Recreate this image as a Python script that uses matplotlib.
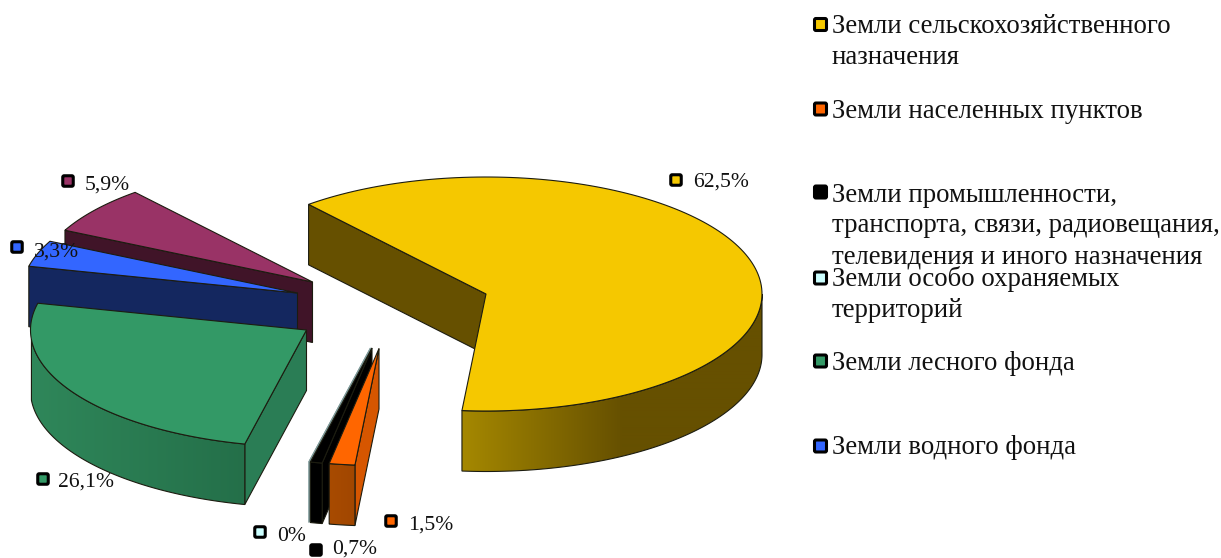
import numpy as np
import matplotlib
matplotlib.use("Agg")
import matplotlib.pyplot as plt
from matplotlib.patches import FancyBboxPatch, Polygon
from matplotlib.colors import to_rgb

plt.rcParams["font.family"] = ["Liberation Serif", "DejaVu Serif"]

# Land categories and their shares, percent
categories = [
    "Земли сельскохозяйственного\nназначения",
    "Земли населенных пунктов",
    "Земли промышленности,\nтранспорта, связи, радиовещания,\nтелевидения и иного назначения",
    "Земли особо охраняемых\nтерриторий",
    "Земли лесного фонда",
    "Земли водного фонда",
    "Земли запаса",
]
shares = [62.5, 1.5, 0.7, 0, 26.1, 3.3, 5.9]
share_labels = ["62,5%", "1,5%", "0,7%", "0%", "26,1%", "3,3%", "5,9%"]

# Face colours per slice
top_colors = ["#f5c800", "#ff6600", "#000000", "#ccffff", "#339966", "#3366ff", "#993366"]
cut_colors = ["#665000", "#d65600", "#000000", "#7f9a9a", "#2a7d55", "#14275f", "#401428"]
rim_left = ["#a58800", "#a84b00", "#000000", "#7f9a9a", "#2f875a", "#14275f", "#401428"]
rim_right = ["#665000", "#a04600", "#000000", "#7f9a9a", "#246f49", "#14275f", "#401428"]
rim_fade_px = [160, 30, 1, 1, 215, 1, 1]

# Position of each pulled-out slice's tip on the canvas, in pixels
tips = [(486, 294), (379, 348.5), (372, 348), (370.5, 348), (306.5, 330), (297.5, 293), (312.5, 282)]

RX, RY, DEPTH = 276.0, 117.0, 60.5
START_ANGLE = 130.0
EDGE = "#1c1c10"

fig = plt.figure(figsize=(12.21, 5.58), dpi=100)
ax = fig.add_axes([0, 0, 1, 1])
ax.set_xlim(0, 1221)
ax.set_ylim(558, 0)
ax.axis("off")


def skew(t):
    """Foreshortening of the view on the far-left part of the disc."""
    s = (t - START_ANGLE) % 360.0
    return t + 5.0 * np.sin(np.pi * s / 127.0) if s < 127.0 else t


def rim_point(tip, t):
    a = np.radians(skew(t))
    return tip[0] + RX * np.cos(a), tip[1] - RY * np.sin(a)


def arc(tip, t1, t2, n=160):
    return np.array([rim_point(tip, t) for t in np.linspace(t1, t2, n)])


def edge_color(i):
    # the empty slice shows only as a thin grey sliver
    return cut_colors[i] if shares[i] == 0 else EDGE


def shaded_rim(i, tip, t1, t2, z):
    """Outer wall of a slice with its left-to-right shading."""
    pts = arc(tip, t1, t2, 240)
    outline = np.vstack([pts, pts[::-1] + [0, DEPTH]])
    x0, x1 = outline[:, 0].min(), outline[:, 0].max()
    y0, y1 = outline[:, 1].min(), outline[:, 1].max()
    c1, c2 = np.array(to_rgb(rim_left[i])), np.array(to_rgb(rim_right[i]))
    xs = np.arange(x0, x1 + 1.0)
    f = np.clip((xs - x0) / rim_fade_px[i], 0, 1)[None, :, None]
    img = ax.imshow(c1 + (c2 - c1) * f, extent=(x0, x1 + 1, y1, y0), aspect="auto",
                    interpolation="bilinear", zorder=z)
    img.set_clip_path(Polygon(outline, closed=True, transform=ax.transData))
    ax.fill(outline[:, 0], outline[:, 1], fc="none", ec=edge_color(i), lw=0.8, zorder=z)
    ax.set_xlim(0, 1221)
    ax.set_ylim(558, 0)


def draw_slice(i, t1, t2, z):
    tip = tips[i]
    # wall along the leading cut, visible when it faces the viewer
    if np.cos(np.radians(t1)) < 0:
        p = rim_point(tip, t1)
        ax.fill([tip[0], p[0], p[0], tip[0]],
                [tip[1], p[1], p[1] + DEPTH, tip[1] + DEPTH],
                fc=cut_colors[i], ec=edge_color(i), lw=0.8, zorder=z)
    # visible stretch of the outer wall: the lower half of the ellipse
    k = np.floor((t1 + 180.0) / 360.0)
    front_lo, front_hi = -180.0 + 360.0 * k, 360.0 * k
    a, b = max(t2, front_lo), min(t1, front_hi)
    if b > a:
        shaded_rim(i, tip, b, a, z + 0.1)
    top = np.vstack([[tip], arc(tip, t1, t2)])
    ax.fill(top[:, 0], top[:, 1], fc=top_colors[i], ec=edge_color(i), lw=0.8, zorder=z + 0.2)


# Slice angles follow the shares clockwise from the start angle
sweeps = np.array(shares) * 3.6
ends = START_ANGLE - np.cumsum(sweeps)
starts = np.concatenate([[START_ANGLE], ends[:-1]])
paint_order = {6: 1, 5: 2, 4: 3, 0: 4, 3: 5, 2: 6, 1: 7}
for i, z in paint_order.items():
    draw_slice(i, starts[i], ends[i], z)


def swatch(cx, cy, color, size):
    h = size / 2
    box = FancyBboxPatch((cx - h, cy - h), size, size,
                         boxstyle="round,pad=0,rounding_size=1.5",
                         fc=color, ec="black", lw=2.2, zorder=20)
    ax.add_patch(box)


# Share labels next to the slices
label_swatches = [(676, 180), (391, 521), (316, 550), (260, 532), (43, 479), (17, 247), (68, 181)]
label_text = [(693, 187), (408, 530), (332, 554), (277, 541), (58, 487), (34, 257), (85, 190)]
for i, lab in enumerate(share_labels):
    swatch(*label_swatches[i], top_colors[i], 10.5)
    ax.text(*label_text[i], lab, fontsize=15.6, color="#111111", va="baseline", ha="left", zorder=21)

# Key on the right; the last category has no entry
key_swatches = [24.5, 109, 192, 278, 361, 446]
key_baselines = [33, 117.5, 201.5, 286, 369.5, 454.5]
LINE_STEP = 31.0
for i, (ys, yb) in enumerate(zip(key_swatches, key_baselines)):
    swatch(820.5, ys, top_colors[i], 12)
    for n, line in enumerate(categories[i].split("\n")):
        ax.text(832, yb + n * LINE_STEP, line, fontsize=19.25, color="#111111",
                va="baseline", ha="left", zorder=21)

fig.savefig("out.png", dpi=100, facecolor="white")
